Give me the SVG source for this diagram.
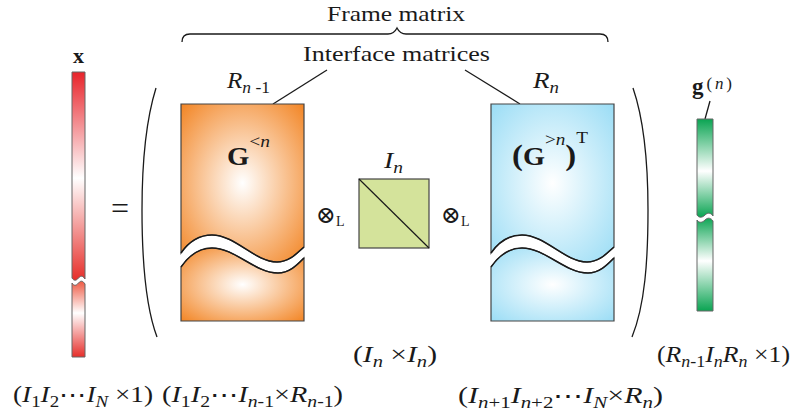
<svg xmlns="http://www.w3.org/2000/svg" width="793" height="419" viewBox="0 0 793 419">
<defs>
<radialGradient id="og" cx="0.5" cy="0.5" r="0.72">
<stop offset="0" stop-color="#ffffff"/>
<stop offset="1" stop-color="#f2821f"/>
</radialGradient>
<radialGradient id="bg" cx="0.5" cy="0.5" r="0.72">
<stop offset="0" stop-color="#ffffff"/>
<stop offset="1" stop-color="#98dcf5"/>
</radialGradient>
<linearGradient id="rg1" x1="0" y1="0" x2="0" y2="1">
<stop offset="0" stop-color="#e8232a"/>
<stop offset="0.51" stop-color="#ffffff"/>
<stop offset="1" stop-color="#e62e2a"/>
</linearGradient>
<linearGradient id="rg2" x1="0" y1="0" x2="0" y2="1">
<stop offset="0" stop-color="#ee5a44"/>
<stop offset="0.42" stop-color="#ffffff"/>
<stop offset="1" stop-color="#e62e2a"/>
</linearGradient>
<linearGradient id="gg1" x1="0" y1="0" x2="0" y2="1">
<stop offset="0" stop-color="#0aa452"/>
<stop offset="0.53" stop-color="#ffffff"/>
<stop offset="1" stop-color="#0aa452"/>
</linearGradient>
<linearGradient id="gg2" x1="0" y1="0" x2="0" y2="1">
<stop offset="0" stop-color="#10a656"/>
<stop offset="0.46" stop-color="#ffffff"/>
<stop offset="1" stop-color="#0aa452"/>
</linearGradient>
</defs>
<style>
text{font-family:"Liberation Serif","Times New Roman",serif;fill:#1a1a1a}
.lbl{font-size:22px}
.m{font-size:23px}
.i{font-style:italic}
.s{font-size:16px}
.b{font-weight:bold}
.n{font-weight:normal}
.edge{stroke:#444;stroke-width:1.2}
.wave{fill:none;stroke:#1a1a1a;stroke-width:1.5}
.ln{fill:none;stroke:#1a1a1a;stroke-width:1.3}
.bar{stroke:#666;stroke-width:1}
.ot{font-family:"DejaVu Serif",serif;font-size:24px}
</style>

<g id="connectors">
<path class="ln" d="M182,42 Q182,34 190,34 H388 Q394,34 397,28 Q400,34 406,34 H600 Q608,34 608,42"/>
<line class="ln" x1="327" y1="70" x2="273" y2="104"/>
<line class="ln" x1="465" y1="70" x2="520" y2="104"/>
<line class="ln" x1="710" y1="101" x2="705" y2="119"/>
<path class="ln" d="M156,88 C146,120 142,165 142,210 C142,260 145,305 157,337"/>
<path class="ln" d="M633,88 C644,120 648,165 648,210 C648,260 645,305 632,337"/>
</g>

<g id="labels-top">
<text class="lbl" x="327" y="21" textLength="138" lengthAdjust="spacingAndGlyphs">Frame matrix</text>
<text class="lbl" x="303" y="61" textLength="187" lengthAdjust="spacingAndGlyphs">Interface matrices</text>
</g>

<g id="node-x">
<path class="bar" fill="url(#rg1)" d="M72,72 H85 V279 C83,276 81,275 78.5,278 C76,281 74,281 72,278 Z"/>
<path class="bar" fill="url(#rg2)" d="M72,283 C74,286 76,286 78.5,283 C81,280 83,281 85,284 V357 H72 Z"/>
<text class="b" x="78.5" y="63" font-size="22" text-anchor="middle">x</text>
</g>

<g id="equals">
<text x="120" y="219" font-size="32" text-anchor="middle">=</text>
</g>

<g id="node-Gless">
<path class="edge" fill="url(#og)" d="M181,104 H304 V247 C298,252 290,262 277,262 C255,262 235,235 212,235 C200,235 190,240 181,253 Z"/>
<path class="edge" fill="url(#og)" d="M181,267 C190,254 200,248 212,248 C235,248 255,273 278,273 C290,273 298,264 304,258 V321 H181 Z"/>
<path class="wave" d="M181,253 C190,240 200,235 212,235 C235,235 255,262 277,262 C290,262 298,252 304,247"/>
<path class="wave" d="M181,267 C190,254 200,248 212,248 C235,248 255,273 278,273 C290,273 298,264 304,258"/>
<text x="227" y="88" class="m i" textLength="43" lengthAdjust="spacingAndGlyphs">R<tspan class="s" dy="5">n</tspan><tspan class="s" font-style="normal"> -1</tspan></text>
<text x="227" y="165" font-size="25" class="b" textLength="43" lengthAdjust="spacingAndGlyphs">G<tspan class="n" font-size="17" dy="-18">&lt;</tspan><tspan class="n i" font-size="17">n</tspan></text>
</g>

<g id="otimes-1">
<text x="316" y="223" class="ot">⊗<tspan font-size="14" font-family="Liberation Serif, serif" dy="3">L</tspan></text>
</g>

<g id="node-In">
<rect x="359" y="179" width="70" height="69" fill="#d4e39b" stroke="#444" stroke-width="1.2"/>
<line x1="359" y1="179" x2="429" y2="248" stroke="#1a1a1a" stroke-width="1.2"/>
<text x="384" y="168" class="m i" textLength="19" lengthAdjust="spacingAndGlyphs">I<tspan class="s" dy="5">n</tspan></text>
</g>

<g id="otimes-2">
<text x="441" y="223" class="ot">⊗<tspan font-size="14" font-family="Liberation Serif, serif" dy="3">L</tspan></text>
</g>

<g id="node-Gmore">
<path class="edge" fill="url(#bg)" d="M491,104 H614 V247 C608,252 600,262 587,262 C565,262 545,235 522,235 C510,235 500,240 491,253 Z"/>
<path class="edge" fill="url(#bg)" d="M491,267 C500,254 510,248 522,248 C545,248 565,273 588,273 C600,273 608,264 614,258 V321 H491 Z"/>
<path class="wave" d="M491,253 C500,240 510,235 522,235 C545,235 565,262 587,262 C600,262 608,252 614,247"/>
<path class="wave" d="M491,267 C500,254 510,248 522,248 C545,248 565,273 588,273 C600,273 608,264 614,258"/>
<text x="533" y="88" class="m i" textLength="26" lengthAdjust="spacingAndGlyphs">R<tspan class="s" dy="5">n</tspan></text>
<text x="512" y="165" font-size="29" class="b" textLength="76" lengthAdjust="spacingAndGlyphs">(<tspan font-size="25">G</tspan><tspan class="n" font-size="17" dy="-20">&gt;</tspan><tspan class="n i" font-size="17">n</tspan><tspan dy="20">)</tspan><tspan class="n" font-size="17" dy="-22">T</tspan></text>
</g>

<g id="node-g">
<path class="bar" fill="url(#gg1)" d="M697,119 H713 V216 C711,213 708,212 705,215 C702,218 699,218 697,215 Z"/>
<path class="bar" fill="url(#gg2)" d="M697,220 C699,223 702,223 705,220 C708,217 711,218 713,221 V311 H697 Z"/>
<text x="692" y="94" font-size="23" class="b" textLength="40" lengthAdjust="spacing">g<tspan class="n" font-size="17" dy="-5">(</tspan><tspan class="n i" font-size="17">n</tspan><tspan class="n" font-size="17">)</tspan></text>
</g>

<g id="dims">
<text x="353" y="362" class="m" textLength="84" lengthAdjust="spacingAndGlyphs">(<tspan class="i">I</tspan><tspan class="s i" dy="5">n</tspan><tspan dy="-5"> ×</tspan><tspan class="i">I</tspan><tspan class="s i" dy="5">n</tspan><tspan dy="-5">)</tspan></text>
<text x="657" y="362" class="m" textLength="133" lengthAdjust="spacingAndGlyphs">(<tspan class="i">R</tspan><tspan class="s i" dy="5">n</tspan><tspan class="s">-1</tspan><tspan class="i" dy="-5">I</tspan><tspan class="s i" dy="5">n</tspan><tspan class="i" dy="-5">R</tspan><tspan class="s i" dy="5">n</tspan><tspan dy="-5"> ×1)</tspan></text>
<text x="13" y="402" class="m" textLength="140" lengthAdjust="spacingAndGlyphs">(<tspan class="i">I</tspan><tspan class="s" dy="5">1</tspan><tspan class="i" dy="-5">I</tspan><tspan class="s" dy="5">2</tspan><tspan dy="-5">⋯</tspan><tspan class="i">I</tspan><tspan class="s i" dy="5">N</tspan><tspan dy="-5"> ×1)</tspan></text>
<text x="162" y="402" class="m" textLength="181" lengthAdjust="spacingAndGlyphs">(<tspan class="i">I</tspan><tspan class="s" dy="5">1</tspan><tspan class="i" dy="-5">I</tspan><tspan class="s" dy="5">2</tspan><tspan dy="-5">⋯</tspan><tspan class="i">I</tspan><tspan class="s i" dy="5">n</tspan><tspan class="s">-1</tspan><tspan dy="-5">×</tspan><tspan class="i">R</tspan><tspan class="s i" dy="5">n</tspan><tspan class="s">-1</tspan><tspan dy="-5">)</tspan></text>
<text x="458" y="403" class="m" textLength="205" lengthAdjust="spacingAndGlyphs">(<tspan class="i">I</tspan><tspan class="s i" dy="5">n</tspan><tspan class="s">+1</tspan><tspan class="i" dy="-5">I</tspan><tspan class="s i" dy="5">n</tspan><tspan class="s">+2</tspan><tspan dy="-5">⋯</tspan><tspan class="i">I</tspan><tspan class="s i" dy="5">N</tspan><tspan dy="-5">×</tspan><tspan class="i">R</tspan><tspan class="s i" dy="5">n</tspan><tspan dy="-5">)</tspan></text>
</g>
</svg>
